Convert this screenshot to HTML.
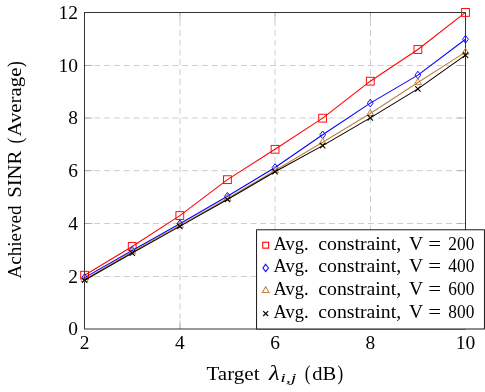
<!DOCTYPE html>
<html><head><meta charset="utf-8"><title>chart</title>
<style>
html,body{margin:0;padding:0;background:#fff;}
svg{display:block;will-change:transform;}
text{font-family:"Liberation Serif",serif;fill:#000;}
</style></head><body>
<svg width="485" height="392" viewBox="0 0 485 392">
<rect x="0" y="0" width="485" height="392" fill="#fff"/>
<g stroke="#bfbfbf" stroke-width="0.78" stroke-dasharray="5.87 3.9" fill="none">
<path d="M180.00 329.0 L180.00 12.45"/>
<path d="M275.04 329.0 L275.04 12.45"/>
<path d="M370.45 329.0 L370.45 12.45"/>
<path d="M84.6 276.50 L465.5 276.50"/>
<path d="M84.6 223.50 L465.5 223.50"/>
<path d="M84.6 170.67 L465.5 170.67"/>
<path d="M84.6 118.00 L465.5 118.00"/>
<path d="M84.6 65.50 L465.5 65.50"/>
</g>
<g stroke="#808080" stroke-width="0.45" fill="none">
<path d="M180.00 329.0 L180.00 320.7"/>
<path d="M180.00 12.45 L180.00 20.75"/>
<path d="M275.04 329.0 L275.04 320.7"/>
<path d="M275.04 12.45 L275.04 20.75"/>
<path d="M370.45 329.0 L370.45 320.7"/>
<path d="M370.45 12.45 L370.45 20.75"/>
<path d="M84.6 276.50 L92.89999999999999 276.50"/>
<path d="M465.5 276.50 L457.2 276.50"/>
<path d="M84.6 223.50 L92.89999999999999 223.50"/>
<path d="M465.5 223.50 L457.2 223.50"/>
<path d="M84.6 170.67 L92.89999999999999 170.67"/>
<path d="M465.5 170.67 L457.2 170.67"/>
<path d="M84.6 118.00 L92.89999999999999 118.00"/>
<path d="M465.5 118.00 L457.2 118.00"/>
<path d="M84.6 65.50 L92.89999999999999 65.50"/>
<path d="M465.5 65.50 L457.2 65.50"/>
</g>
<rect x="84.6" y="12.45" width="380.90" height="316.55" fill="none" stroke="#000" stroke-width="0.8"/>
<polyline points="84.60,275.24 132.21,246.46 179.82,215.57 227.44,179.67 275.05,149.31 322.66,118.15 370.27,81.19 417.89,49.51 465.50,12.45" fill="none" stroke="#ff0000" stroke-width="1.05" stroke-linejoin="round"/>
<rect x="80.70" y="271.34" width="7.80" height="7.80" fill="none" stroke="#ff0000" stroke-width="0.95"/>
<rect x="128.31" y="242.56" width="7.80" height="7.80" fill="none" stroke="#ff0000" stroke-width="0.95"/>
<rect x="175.92" y="211.67" width="7.80" height="7.80" fill="none" stroke="#ff0000" stroke-width="0.95"/>
<rect x="223.54" y="175.77" width="7.80" height="7.80" fill="none" stroke="#ff0000" stroke-width="0.95"/>
<rect x="271.15" y="145.41" width="7.80" height="7.80" fill="none" stroke="#ff0000" stroke-width="0.95"/>
<rect x="318.76" y="114.25" width="7.80" height="7.80" fill="none" stroke="#ff0000" stroke-width="0.95"/>
<rect x="366.38" y="77.29" width="7.80" height="7.80" fill="none" stroke="#ff0000" stroke-width="0.95"/>
<rect x="413.99" y="45.61" width="7.80" height="7.80" fill="none" stroke="#ff0000" stroke-width="0.95"/>
<rect x="461.60" y="8.55" width="7.80" height="7.80" fill="none" stroke="#ff0000" stroke-width="0.95"/>
<polyline points="84.60,277.61 132.21,250.42 179.82,223.77 227.44,196.31 275.05,167.53 322.66,134.80 370.27,103.12 417.89,75.13 465.50,39.22" fill="none" stroke="#0000ff" stroke-width="1.05" stroke-linejoin="round"/>
<path d="M84.60 273.76 L87.49 277.61 L84.60 281.46 L81.71 277.61 Z" fill="none" stroke="#0000ff" stroke-width="0.95"/>
<path d="M132.21 246.57 L135.10 250.42 L132.21 254.27 L129.32 250.42 Z" fill="none" stroke="#0000ff" stroke-width="0.95"/>
<path d="M179.82 219.92 L182.71 223.77 L179.82 227.62 L176.94 223.77 Z" fill="none" stroke="#0000ff" stroke-width="0.95"/>
<path d="M227.44 192.46 L230.32 196.31 L227.44 200.16 L224.55 196.31 Z" fill="none" stroke="#0000ff" stroke-width="0.95"/>
<path d="M275.05 163.68 L277.94 167.53 L275.05 171.38 L272.16 167.53 Z" fill="none" stroke="#0000ff" stroke-width="0.95"/>
<path d="M322.66 130.95 L325.55 134.80 L322.66 138.65 L319.78 134.80 Z" fill="none" stroke="#0000ff" stroke-width="0.95"/>
<path d="M370.27 99.27 L373.16 103.12 L370.27 106.97 L367.39 103.12 Z" fill="none" stroke="#0000ff" stroke-width="0.95"/>
<path d="M417.89 71.28 L420.77 75.13 L417.89 78.98 L415.00 75.13 Z" fill="none" stroke="#0000ff" stroke-width="0.95"/>
<path d="M465.50 35.37 L468.39 39.22 L465.50 43.07 L462.61 39.22 Z" fill="none" stroke="#0000ff" stroke-width="0.95"/>
<polyline points="84.60,279.46 132.21,251.74 179.82,225.36 227.44,198.42 275.05,170.43 322.66,142.18 370.27,113.53 417.89,82.51 465.50,52.18" fill="none" stroke="#bf8040" stroke-width="1.05" stroke-linejoin="round"/>
<path d="M84.60 275.36 L81.05 281.51 L88.15 281.51 Z" fill="none" stroke="#bf8040" stroke-width="0.95"/>
<path d="M132.21 247.64 L128.66 253.79 L135.76 253.79 Z" fill="none" stroke="#bf8040" stroke-width="0.95"/>
<path d="M179.82 221.26 L176.27 227.41 L183.38 227.41 Z" fill="none" stroke="#bf8040" stroke-width="0.95"/>
<path d="M227.44 194.32 L223.89 200.47 L230.99 200.47 Z" fill="none" stroke="#bf8040" stroke-width="0.95"/>
<path d="M275.05 166.33 L271.50 172.48 L278.60 172.48 Z" fill="none" stroke="#bf8040" stroke-width="0.95"/>
<path d="M322.66 138.08 L319.11 144.23 L326.21 144.23 Z" fill="none" stroke="#bf8040" stroke-width="0.95"/>
<path d="M370.27 109.43 L366.72 115.58 L373.83 115.58 Z" fill="none" stroke="#bf8040" stroke-width="0.95"/>
<path d="M417.89 78.41 L414.34 84.56 L421.44 84.56 Z" fill="none" stroke="#bf8040" stroke-width="0.95"/>
<path d="M465.50 48.08 L461.95 54.23 L469.05 54.23 Z" fill="none" stroke="#bf8040" stroke-width="0.95"/>
<polyline points="84.60,280.25 132.21,253.08 179.82,226.41 227.44,199.48 275.05,171.75 322.66,145.61 370.27,117.89 417.89,88.87 465.50,55.08" fill="none" stroke="#000000" stroke-width="1.05" stroke-linejoin="round"/>
<path d="M81.91 277.56 L87.29 282.94 M81.91 282.94 L87.29 277.56" fill="none" stroke="#000000" stroke-width="1.05"/>
<path d="M129.53 250.39 L134.90 255.77 M129.53 255.77 L134.90 250.39" fill="none" stroke="#000000" stroke-width="1.05"/>
<path d="M177.14 223.72 L182.51 229.10 M177.14 229.10 L182.51 223.72" fill="none" stroke="#000000" stroke-width="1.05"/>
<path d="M224.75 196.79 L230.12 202.17 M224.75 202.17 L230.12 196.79" fill="none" stroke="#000000" stroke-width="1.05"/>
<path d="M272.36 169.07 L277.74 174.44 M272.36 174.44 L277.74 169.07" fill="none" stroke="#000000" stroke-width="1.05"/>
<path d="M319.98 142.93 L325.35 148.30 M319.98 148.30 L325.35 142.93" fill="none" stroke="#000000" stroke-width="1.05"/>
<path d="M367.59 115.20 L372.96 120.57 M367.59 120.57 L372.96 115.20" fill="none" stroke="#000000" stroke-width="1.05"/>
<path d="M415.20 86.18 L420.57 91.56 M415.20 91.56 L420.57 86.18" fill="none" stroke="#000000" stroke-width="1.05"/>
<path d="M462.81 52.39 L468.19 57.77 M462.81 57.77 L468.19 52.39" fill="none" stroke="#000000" stroke-width="1.05"/>
<rect x="256.6" y="229.8" width="227.80" height="99.20" fill="#fff" stroke="#000" stroke-width="0.9"/>
<rect x="262.75" y="242.25" width="5.90" height="5.90" fill="none" stroke="#ff0000" stroke-width="1.1"/>
<text x="273.6" y="249.70" font-size="18.6" textLength="35" lengthAdjust="spacingAndGlyphs">Avg.</text>
<text x="318.3" y="249.70" font-size="18.2" textLength="82.8" lengthAdjust="spacingAndGlyphs">constraint,</text>
<text x="409" y="249.70" font-size="19.6" textLength="14.1" lengthAdjust="spacingAndGlyphs">V</text>
<text x="428.3" y="249.70" font-size="18.6" textLength="12.9" lengthAdjust="spacingAndGlyphs">=</text>
<text x="448.3" y="249.70" font-size="18.8" textLength="26" lengthAdjust="spacingAndGlyphs">200</text>
<path d="M265.70 264.25 L268.47 267.95 L265.70 271.65 L262.93 267.95 Z" fill="none" stroke="#0000ff" stroke-width="1.05"/>
<text x="273.6" y="272.45" font-size="18.6" textLength="35" lengthAdjust="spacingAndGlyphs">Avg.</text>
<text x="318.3" y="272.45" font-size="18.2" textLength="82.8" lengthAdjust="spacingAndGlyphs">constraint,</text>
<text x="409" y="272.45" font-size="19.6" textLength="14.1" lengthAdjust="spacingAndGlyphs">V</text>
<text x="428.3" y="272.45" font-size="18.6" textLength="12.9" lengthAdjust="spacingAndGlyphs">=</text>
<text x="448.3" y="272.45" font-size="18.8" textLength="26" lengthAdjust="spacingAndGlyphs">400</text>
<path d="M265.70 286.70 L262.32 292.55 L269.08 292.55 Z" fill="none" stroke="#bf8040" stroke-width="1.05"/>
<text x="273.6" y="295.20" font-size="18.6" textLength="35" lengthAdjust="spacingAndGlyphs">Avg.</text>
<text x="318.3" y="295.20" font-size="18.2" textLength="82.8" lengthAdjust="spacingAndGlyphs">constraint,</text>
<text x="409" y="295.20" font-size="19.6" textLength="14.1" lengthAdjust="spacingAndGlyphs">V</text>
<text x="428.3" y="295.20" font-size="18.6" textLength="12.9" lengthAdjust="spacingAndGlyphs">=</text>
<text x="448.3" y="295.20" font-size="18.8" textLength="26" lengthAdjust="spacingAndGlyphs">600</text>
<path d="M263.23 311.08 L268.17 316.02 M263.23 316.02 L268.17 311.08" fill="none" stroke="#000000" stroke-width="1.15"/>
<text x="273.6" y="317.95" font-size="18.6" textLength="35" lengthAdjust="spacingAndGlyphs">Avg.</text>
<text x="318.3" y="317.95" font-size="18.2" textLength="82.8" lengthAdjust="spacingAndGlyphs">constraint,</text>
<text x="409" y="317.95" font-size="19.6" textLength="14.1" lengthAdjust="spacingAndGlyphs">V</text>
<text x="428.3" y="317.95" font-size="18.6" textLength="12.9" lengthAdjust="spacingAndGlyphs">=</text>
<text x="448.3" y="317.95" font-size="18.8" textLength="26" lengthAdjust="spacingAndGlyphs">800</text>
<text x="77.9" y="335.30" font-size="18.8" text-anchor="end" textLength="9.7" lengthAdjust="spacingAndGlyphs">0</text>
<text x="77.9" y="282.54" font-size="18.8" text-anchor="end" textLength="9.7" lengthAdjust="spacingAndGlyphs">2</text>
<text x="77.9" y="229.78" font-size="18.8" text-anchor="end" textLength="9.7" lengthAdjust="spacingAndGlyphs">4</text>
<text x="77.9" y="177.03" font-size="18.8" text-anchor="end" textLength="9.7" lengthAdjust="spacingAndGlyphs">6</text>
<text x="77.9" y="124.27" font-size="18.8" text-anchor="end" textLength="9.7" lengthAdjust="spacingAndGlyphs">8</text>
<text x="77.9" y="71.51" font-size="18.8" text-anchor="end" textLength="19.5" lengthAdjust="spacingAndGlyphs">10</text>
<text x="77.9" y="18.75" font-size="18.8" text-anchor="end" textLength="19.5" lengthAdjust="spacingAndGlyphs">12</text>
<text x="84.70" y="348.9" font-size="18.8" text-anchor="middle" textLength="9.7" lengthAdjust="spacingAndGlyphs">2</text>
<text x="179.92" y="348.9" font-size="18.8" text-anchor="middle" textLength="9.7" lengthAdjust="spacingAndGlyphs">4</text>
<text x="275.15" y="348.9" font-size="18.8" text-anchor="middle" textLength="9.7" lengthAdjust="spacingAndGlyphs">6</text>
<text x="370.38" y="348.9" font-size="18.8" text-anchor="middle" textLength="9.7" lengthAdjust="spacingAndGlyphs">8</text>
<text x="465.60" y="348.9" font-size="18.8" text-anchor="middle" textLength="19.5" lengthAdjust="spacingAndGlyphs">10</text>
<text x="206.4" y="379.8" font-size="18.8" textLength="53.2" lengthAdjust="spacingAndGlyphs">Target</text>
<text x="269.1" y="379.8" font-size="20.2" font-style="italic" textLength="10.6" lengthAdjust="spacingAndGlyphs">λ</text>
<text x="280.2" y="382.2" font-size="13.2" font-style="italic" textLength="16.2" lengthAdjust="spacingAndGlyphs">i,j</text>
<text x="304.8" y="380.0" font-size="22.0" textLength="5.7" lengthAdjust="spacingAndGlyphs">(</text>
<text x="312.3" y="379.8" font-size="19.2" textLength="24.0" lengthAdjust="spacingAndGlyphs">dB</text>
<text x="337.4" y="380.0" font-size="22.0" textLength="5.7" lengthAdjust="spacingAndGlyphs">)</text>
<g transform="translate(21.4 0) rotate(-90)">
<text x="-278.4" y="0" font-size="18.6" textLength="72.9" lengthAdjust="spacingAndGlyphs">Achieved</text>
<text x="-197.8" y="0" font-size="19.8" textLength="47.2" lengthAdjust="spacingAndGlyphs">SINR</text>
<text x="-143.5" y="0.2" font-size="22.0" textLength="5.7" lengthAdjust="spacingAndGlyphs">(</text>
<text x="-136.6" y="0" font-size="18.6" textLength="69.0" lengthAdjust="spacingAndGlyphs">Average</text>
<text x="-67.1" y="0.2" font-size="22.0" textLength="5.7" lengthAdjust="spacingAndGlyphs">)</text>
</g>
</svg></body></html>
